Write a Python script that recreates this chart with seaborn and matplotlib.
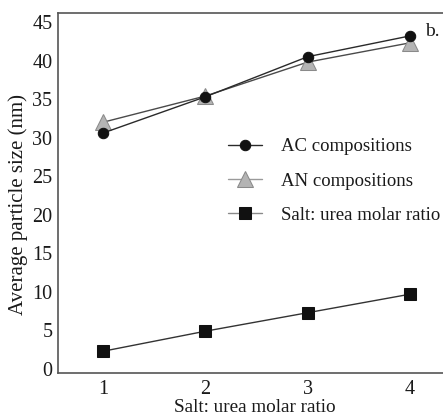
import matplotlib
matplotlib.use("Agg")
import matplotlib.pyplot as plt
import seaborn as sns
import pandas as pd

ratio = [1, 2, 3, 4]
ac_sizes = [30.6, 35.3, 40.5, 43.2]
an_sizes = [32.0, 35.4, 39.8, 42.3]
salt_sizes = [2.3, 4.9, 7.3, 9.7]
series_labels = ["AC compositions", "AN compositions", "Salt: urea molar ratio"]
y_ticks = [0, 5, 10, 15, 20, 25, 30, 35, 40, 45]

sns.set_theme(style="white")
plt.rcParams["font.family"] = ["Liberation Serif", "DejaVu Serif"]

W, H = 443, 417
fig = plt.figure(figsize=(W / 100, H / 100), dpi=100)
ax = fig.add_axes([58 / W, 44 / H, (460 - 58) / W, (373 - 13) / H])

df_ac = pd.DataFrame({"x": ratio, "y": ac_sizes})
df_an = pd.DataFrame({"x": ratio, "y": an_sizes})
df_salt = pd.DataFrame({"x": ratio, "y": salt_sizes})

sns.lineplot(data=df_ac, x="x", y="y", ax=ax, color="#2a2a2a", lw=1.0,
             marker="o", markersize=7.5, markerfacecolor="#111111",
             markeredgecolor="#111111", label=series_labels[0], zorder=4)
sns.lineplot(data=df_an, x="x", y="y", ax=ax, color="#4a4a4a", lw=1.0,
             marker="^", markersize=12, markerfacecolor="#b4b4b4",
             markeredgecolor="#8a8a8a", label=series_labels[1], zorder=3)
sns.lineplot(data=df_salt, x="x", y="y", ax=ax, color="#333333", lw=1.0,
             marker="s", markersize=8, markerfacecolor="#111111",
             markeredgecolor="#111111", label=series_labels[2], zorder=3)

ax.set_xlim(1 - 45 / 102.33, 4 + 50 / 102.33)
ax.set_ylim(-0.52, 46.17)
ax.set_xticks(ratio)
ax.set_xticklabels([str(r) for r in ratio])
ax.set_yticks(y_ticks)
ax.tick_params(axis="both", length=0, labelsize=14.5, colors="#1a1a1a")
ax.tick_params(axis="y", pad=4)
ax.tick_params(axis="x", pad=5)

for s in ["left", "bottom", "top"]:
    ax.spines[s].set_color("#555555")
    ax.spines[s].set_linewidth(1.2)
ax.spines["right"].set_visible(False)

ax.set_xlabel("Salt: urea molar ratio", fontsize=13.8, color="#1a1a1a")
ax.xaxis.set_label_coords(0.49, -0.072)
ax.set_ylabel("Average particle size (nm)", fontsize=15, color="#1a1a1a")
ax.yaxis.set_label_coords(-0.074, 0.467)

ax.text(4.15, 43.8, "b.", fontsize=14, color="#1a1a1a", ha="left", va="center")

leg = ax.legend(loc="upper left", bbox_to_anchor=(228 / W, 1 - 138 / H),
                bbox_transform=fig.transFigure, frameon=False, fontsize=13.5,
                handlelength=1.8, handletextpad=1.05, labelspacing=0.92,
                borderpad=0, borderaxespad=0)
for t in leg.get_texts():
    t.set_color("#1a1a1a")
lines = leg.get_lines()
lines[1].set_color("#9a9a9a")
lines[2].set_color("#8a8a8a")

fig.savefig("out.png", dpi=100)
